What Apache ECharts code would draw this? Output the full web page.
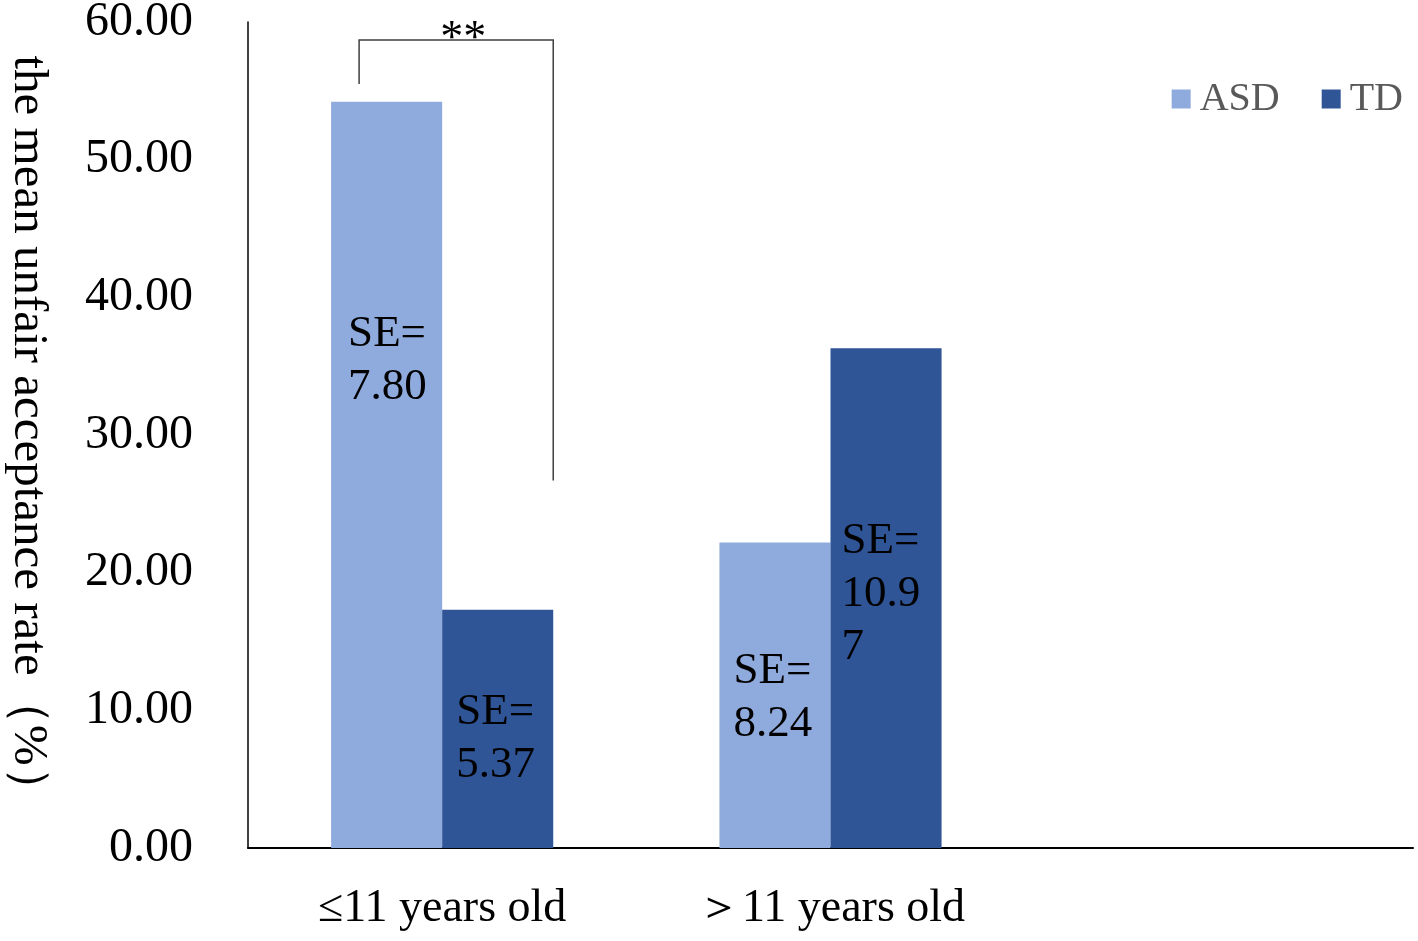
<!DOCTYPE html>
<html><head><meta charset="utf-8">
<script src="https://cdn.jsdelivr.net/npm/echarts@6/dist/echarts.min.js"></script>
<style>html,body{margin:0;padding:0;background:#fff}#c{width:1418px;height:941px}</style>
</head><body><div id="c"></div>
<script>
var categories = ['\u226411 years old', '\uFF1E11 years old', ''];
var asdValues = [54.2, 22.2, null];
var tdValues = [17.3, 36.3, null];
var asdSE = ['7.80', '8.24'];
var tdSE = ['5.37', '10.97'];
var yTicks = { min: 0, max: 60, interval: 10 };
var bracketLevels = { top: 58.7, left: 55.5, right: 26.7 };
var sigText = '**';

var FONT = '"Liberation Serif","Times New Roman",serif';
var chart = echarts.init(document.getElementById('c'));

var labelBase = { show: true, color: '#000', fontFamily: FONT, fontSize: 45, lineHeight: 53, align: 'left', verticalAlign: 'top' };
function lab(text, pos) {
  return Object.assign({}, labelBase, { position: pos, formatter: text });
}
var asdLabelPos = [[17, 206], [14, 102]];
var tdLabelPos = [[14, 76], [11, 166]];

var asdData = asdValues.map(function (v, i) {
  if (v == null) return v;
  return { value: v, label: lab('SE=\n' + asdSE[i], asdLabelPos[i]) };
});
var tdData = tdValues.map(function (v, i) {
  if (v == null) return v;
  var t = tdSE[i];
  if (t.length > 4) t = t.slice(0, 4) + '\n' + t.slice(4);
  return { value: v, label: lab('SE=\n' + t, tdLabelPos[i]) };
});

var option = {
  animation: false,
  backgroundColor: '#fff',
  grid: { left: 248, right: 5, top: 22, bottom: 93, containLabel: false, outerBoundsMode: 'none' },
  legend: {
    right: 10, top: 74, itemWidth: 19, itemHeight: 19, itemGap: 42,
    icon: 'rect',
    textStyle: { fontFamily: FONT, fontSize: 40, color: '#595959', padding: [0, 0, 0, 4] },
    data: ['ASD', 'TD']
  },
  xAxis: {
    type: 'category', data: categories,
    axisLine: { lineStyle: { color: '#000', width: 2 } },
    axisTick: { show: false },
    axisLabel: { fontFamily: FONT, fontSize: 46, color: '#000', margin: 38 }
  },
  yAxis: {
    type: 'value', min: yTicks.min, max: yTicks.max, interval: yTicks.interval,
    name: 'the mean unfair acceptance rate\uFF08%\uFF09',
    nameLocation: 'middle', nameRotate: -90, nameGap: 196,
    nameTextStyle: { fontFamily: FONT, fontSize: 49, color: '#000' },
    axisLine: { show: true, lineStyle: { color: '#000', width: 1.5 } },
    axisTick: { show: false },
    splitLine: { show: false },
    axisLabel: { fontFamily: FONT, fontSize: 48, color: '#000', margin: 55,
      formatter: function (v) { return v.toFixed(2); } }
  },
  series: [
    { name: 'ASD', type: 'bar', data: asdData, barGap: '0%', barCategoryGap: '42.8%',
      itemStyle: { color: '#8FAADC' } },
    { name: 'TD', type: 'bar', data: tdData, barGap: '0%', barCategoryGap: '42.8%',
      itemStyle: { color: '#2F5597' } }
  ]
};
chart.setOption(option);

var c0 = chart.convertToPixel({ xAxisIndex: 0 }, 0);
var c1 = chart.convertToPixel({ xAxisIndex: 0 }, 1);
var band = c1 - c0;
var barW = band * (1 - 0.428) / 2;
var xl = c0 - barW + 28;
var xr = c0 + barW;
var yTop = chart.convertToPixel({ yAxisIndex: 0 }, bracketLevels.top);
var yL = chart.convertToPixel({ yAxisIndex: 0 }, bracketLevels.left);
var yR = chart.convertToPixel({ yAxisIndex: 0 }, bracketLevels.right);
chart.setOption({
  graphic: [
    { type: 'polyline', shape: { points: [[xl, yL], [xl, yTop], [xr, yTop], [xr, yR]] },
      style: { stroke: '#404040', lineWidth: 1.5, fill: null } },
    { type: 'text', x: (xl + xr) / 2 + 7, y: yTop,
      style: { text: sigText, font: '46px ' + FONT, fill: '#000', align: 'center', verticalAlign: 'middle' } }
  ]
});
</script></body></html>
